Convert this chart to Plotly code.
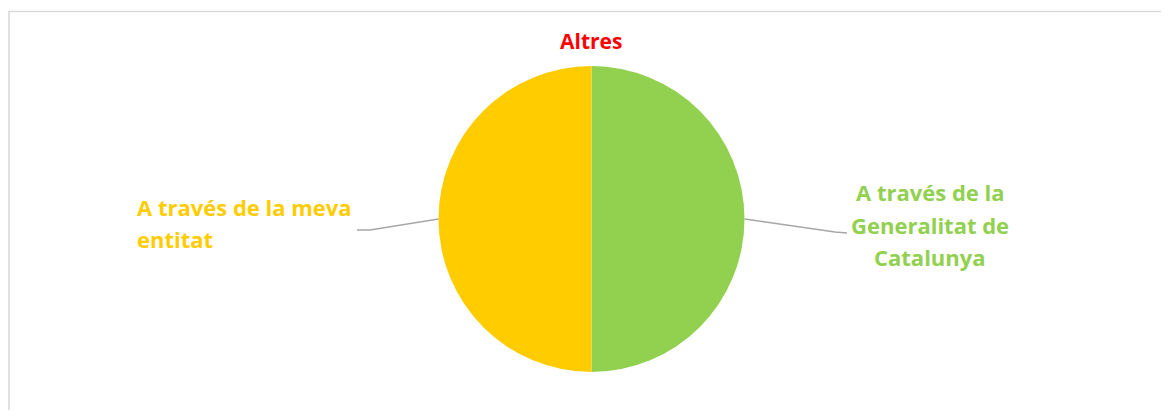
import math
import plotly.graph_objects as go

# ---- data ----
title_text = "Altres"
categories = ["A través de la<br>Generalitat de<br>Catalunya", "A través de la meva<br>entitat"]
values = [50, 50]
colors = ["#92D050", "#FFCC00"]

OFF = 8  # page body margin
W, H = 1169 - 2 * OFF, 418 - 2 * OFF


def px(x):
    return (x - OFF) / W


def py(y):
    return 1 - (y - OFF) / H


cx, cy, r = 591.5, 219.0, 153.0  # pie centre / radius in page px
FONT = "'Open Sans', Lato, sans-serif"
FS = 22
LINE = 32.5

fig = go.Figure()
fig.add_trace(go.Pie(
    labels=[c.replace("<br>", " ") for c in categories],
    values=values,
    marker=dict(colors=colors, line=dict(width=0)),
    textinfo="none",
    sort=False,
    direction="clockwise",
    rotation=0,
    hoverinfo="label+percent",
    domain=dict(x=[px(cx - r), px(cx + r)], y=[py(cy + r), py(cy - r)]),
    showlegend=False,
))

total = sum(values)
acc = 0
shapes = []
annotations = []
label_cfg = [
    dict(elbow=(835, 232), end=(847, 233), lx=930, ly=224.5, xanchor="center"),
    dict(elbow=(370, 230), end=(357, 230), lx=135, ly=223, xanchor="left"),
]
for i, v in enumerate(values):
    mid = (acc + v / 2) / total * 2 * math.pi
    acc += v
    sx = cx + r * math.sin(mid)
    sy = cy - r * math.cos(mid)
    cfg = label_cfg[i]
    pts = [(sx, sy), cfg["elbow"], cfg["end"]]
    path = "M " + " L ".join(f"{px(x):.5f},{py(y):.5f}" for x, y in pts)
    shapes.append(dict(type="path", xref="paper", yref="paper", path=path,
                       line=dict(color="#A6A6A6", width=1.5)))
    lines = categories[i].split("<br>")
    n = len(lines)
    for k, t in enumerate(lines):
        yy = cfg["ly"] + (k - (n - 1) / 2) * LINE
        annotations.append(dict(
            x=px(cfg["lx"]), y=py(yy), xref="paper", yref="paper",
            text=t, showarrow=False, xanchor=cfg["xanchor"], yanchor="middle",
            font=dict(family=FONT, size=FS, color=colors[i], weight="bold"),
        ))

annotations.append(dict(
    x=px(cx), y=py(41), xref="paper", yref="paper", text=title_text, showarrow=False,
    xanchor="center", yanchor="middle",
    font=dict(family=FONT, size=21, color="#FF0000", weight="bold"),
))

shapes.append(dict(type="rect", xref="paper", yref="paper",
                   x0=px(9), x1=1.05, y0=-0.05, y1=py(11.5),
                   line=dict(color="#D9D9D9", width=1.5), fillcolor="rgba(0,0,0,0)"))

fig.update_layout(
    width=W, height=H,
    margin=dict(l=0, r=0, t=0, b=0),
    paper_bgcolor="white", plot_bgcolor="white",
    shapes=shapes, annotations=annotations,
)
fig.write_html("out.html")
